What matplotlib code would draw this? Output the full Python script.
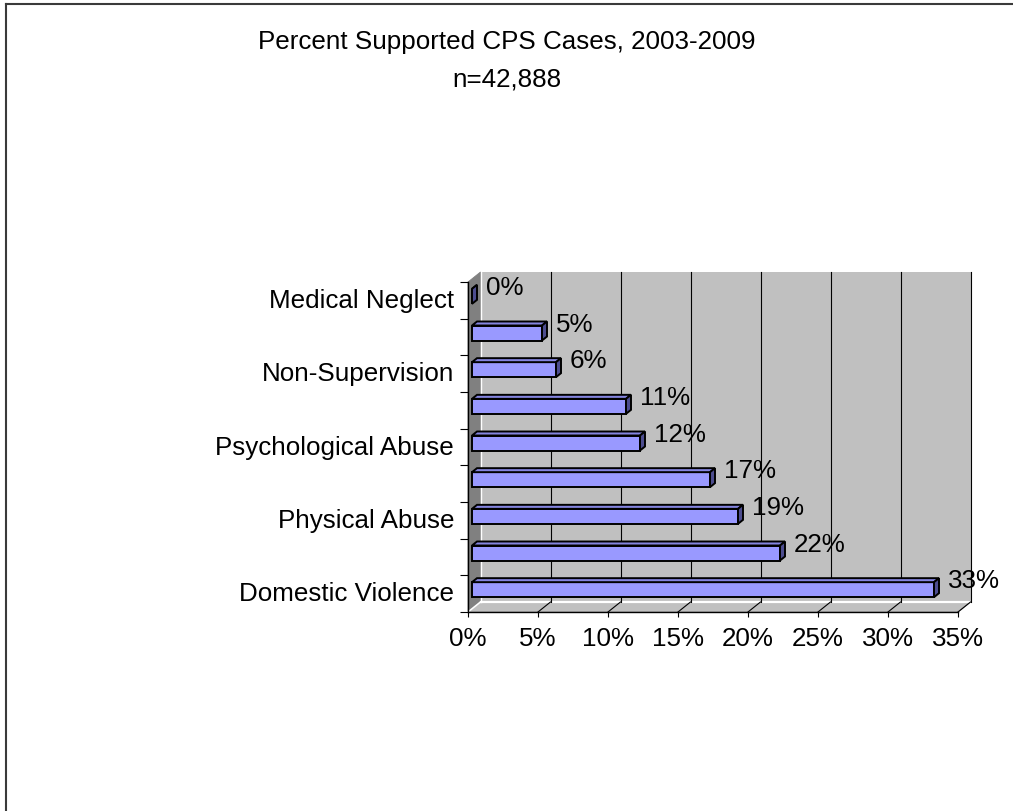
import matplotlib
matplotlib.use('Agg')
import matplotlib.pyplot as plt
from matplotlib.patches import Polygon
from matplotlib.lines import Line2D
from matplotlib.transforms import ScaledTranslation
import numpy as np

# ---------------- data ----------------
categories = ['Domestic Violence', '', 'Physical Abuse', '', 'Psychological Abuse',
              '', 'Non-Supervision', '', 'Medical Neglect']
values = [33, 22, 19, 17, 12, 11, 6, 5, 0]
value_labels = ['33%', '22%', '19%', '17%', '12%', '11%', '6%', '5%', '0%']
x_ticks = [0, 5, 10, 15, 20, 25, 30, 35]
x_tick_labels = ['0%', '5%', '10%', '15%', '20%', '25%', '30%', '35%']
title_line1 = 'Percent Supported CPS Cases, 2003-2009'
title_line2 = 'n=42,888'

# ---------------- style / layout ----------------
plt.rcParams['font.family'] = ['Liberation Sans', 'DejaVu Sans']
W, H, DPI = 1013, 811, 100
FS = 18.7
fig = plt.figure(figsize=(W / DPI, H / DPI), dpi=DPI)
fig.patch.set_facecolor('white')

# front plane of the 3-D plot area (pixels)
L, R, T, B = 468, 958, 282, 612
ax = fig.add_axes([L / W, 1 - B / H, (R - L) / W, (B - T) / H])
xmax = x_ticks[-1]
n = len(values)
ax.set_xlim(0, xmax)
ax.set_ylim(-0.5, n - 0.5)
ax.patch.set_visible(False)

sx = (R - L) / xmax      # px per x unit
sy = (B - T) / n         # px per category

def dx(px):
    return px / sx

def dy(px):
    return px / sy

Dx, Dy = dx(12.5), dy(10)          # depth of the 3-D box
y0, y1 = -0.5, n - 0.5

wall_col = '#c0c0c0'
# back wall
ax.add_patch(Polygon([(Dx, y0 + Dy), (xmax + Dx, y0 + Dy), (xmax + Dx, y1 + Dy), (Dx, y1 + Dy)],
                     closed=True, facecolor=wall_col, edgecolor='none', zorder=0, clip_on=False))
# floor
ax.add_patch(Polygon([(0, y0), (xmax, y0), (xmax + Dx, y0 + Dy), (Dx, y0 + Dy)],
                     closed=True, facecolor=wall_col, edgecolor='#9a9a9a', linewidth=0.8,
                     zorder=0.5, clip_on=False))
# left wall
ax.add_patch(Polygon([(0, y0), (Dx, y0 + Dy), (Dx, y1 + Dy), (0, y1)],
                     closed=True, facecolor='#808080', edgecolor='#808080', linewidth=0.6,
                     zorder=0.6, clip_on=False))
# light edges where walls meet
ax.plot([Dx, xmax + Dx], [y0 + Dy, y0 + Dy], color='white', lw=1.6, zorder=0.7, clip_on=False)
ax.plot([Dx, Dx], [y0 + Dy, y1 + Dy], color='white', lw=1.0, zorder=0.7, clip_on=False)
ax.plot([0, Dx], [y0, y0 + Dy], color='white', lw=1.2, zorder=0.7, clip_on=False)

# gridlines on back wall and floor
for t in x_ticks[1:]:
    ax.plot([t + Dx, t + Dx], [y0 + Dy, y1 + Dy], color='black', lw=0.8, zorder=1, clip_on=False)
    ax.plot([t, t + Dx], [y0, y0 + Dy], color='black', lw=0.8, zorder=1, clip_on=False)

# ---------------- bars ----------------
pos = np.arange(n)
ox, oy = dx(4), dy(4)
bh = dy(15)
bdx, bdy = dx(5), dy(4)
face = '#9999ff'
top_col = '#8585e0'
side_col = '#4d4d8f'
ew = 1.4

ax.barh(pos + oy, values, height=bh, left=ox, color=face, edgecolor='black',
        linewidth=ew, zorder=3)
for p, v in zip(pos, values):
    yb = p + oy - bh / 2
    yt = p + oy + bh / 2
    xe = ox + v
    ax.add_patch(Polygon([(ox, yt), (xe, yt), (xe + bdx, yt + bdy), (ox + bdx, yt + bdy)],
                         closed=True, facecolor=top_col, edgecolor='black', linewidth=ew,
                         joinstyle='miter', zorder=3, clip_on=False))
    ax.add_patch(Polygon([(xe, yb), (xe, yt), (xe + bdx, yt + bdy), (xe + bdx, yb + bdy)],
                         closed=True, facecolor=side_col, edgecolor='black', linewidth=ew,
                         joinstyle='miter', zorder=3, clip_on=False))

for p, v, lab in zip(pos, values, value_labels):
    ax.text(ox + v + dx(14), p + oy + dy(1.5), lab, ha='left', va='baseline',
            fontsize=FS, color='black', zorder=4, clip_on=False)

# ---------------- axes ----------------
for s in ['top', 'right']:
    ax.spines[s].set_visible(False)
for s in ['left', 'bottom']:
    ax.spines[s].set_color('black')
    ax.spines[s].set_linewidth(1.0)
    ax.spines[s].set_zorder(2)

ax.set_xticks(x_ticks)
ax.set_xticklabels(x_tick_labels, fontsize=FS)
ax.tick_params(axis='x', direction='out', length=3.6, width=0.8, color='black', pad=7)

ax.set_yticks(pos)
ax.set_yticklabels(categories, fontsize=FS)
ax.set_yticks(np.arange(n + 1) - 0.5, minor=True)
ax.tick_params(axis='y', which='major', length=0, pad=10)
ax.tick_params(axis='y', which='minor', direction='out', length=5.8, width=0.8, color='black')
shift = ScaledTranslation(0, 2 / DPI, fig.dpi_scale_trans)
for lab in ax.get_yticklabels():
    lab.set_transform(lab.get_transform() + shift)

# ---------------- title ----------------
fig.text(0.5, 1 - 49 / H, title_line1, ha='center', va='baseline', fontsize=FS)
fig.text(0.5, 1 - 86 / H, title_line2, ha='center', va='baseline', fontsize=FS)

# ---------------- chart border ----------------
fig.add_artist(Line2D([5.5 / W, 5.5 / W], [0, 1 - 3.5 / H], color='#3a3a3a', lw=1.5))
fig.add_artist(Line2D([5.5 / W, 1], [1 - 3.5 / H, 1 - 3.5 / H], color='#3a3a3a', lw=1.5))

fig.savefig('out.png', dpi=DPI)
